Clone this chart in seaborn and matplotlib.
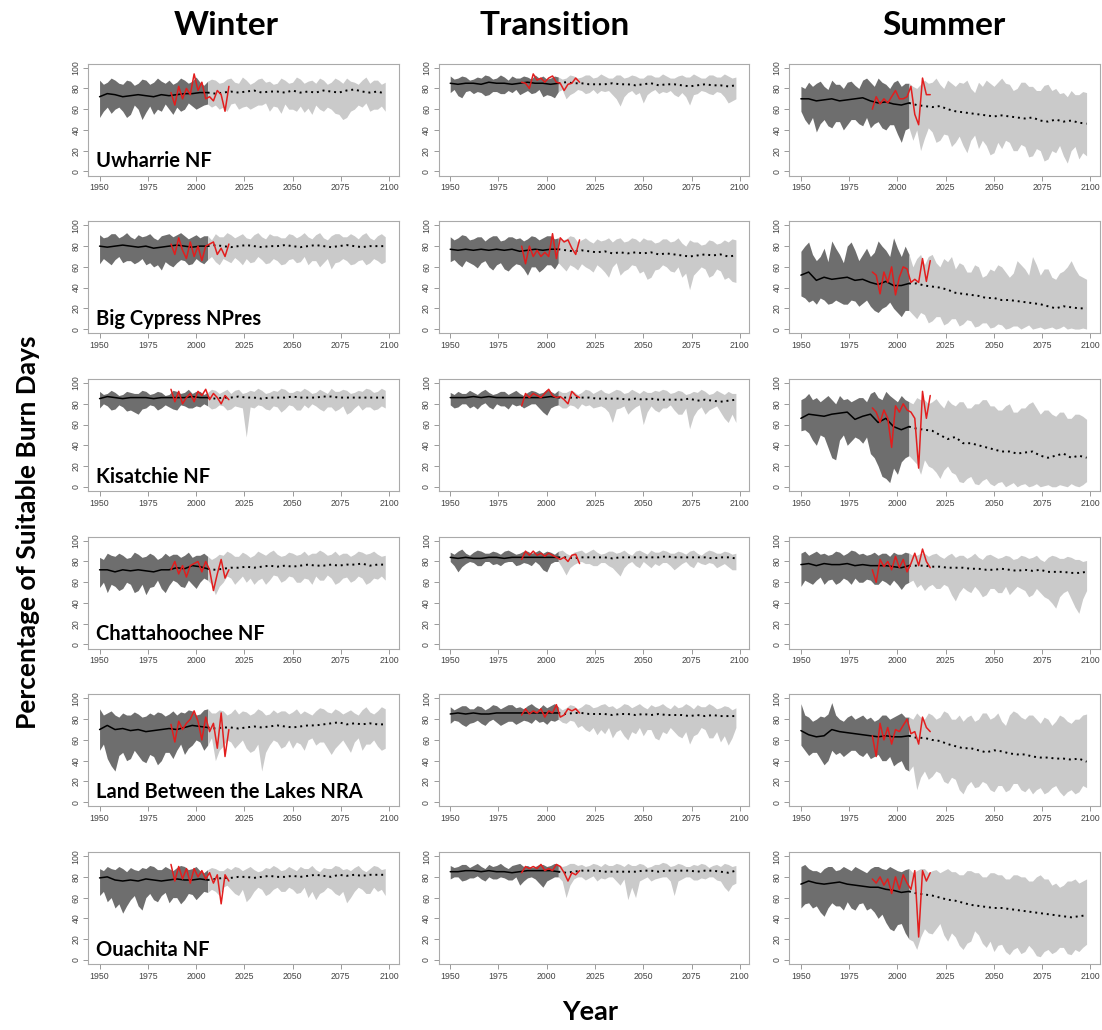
import numpy as np
import pandas as pd
import seaborn as sns
import matplotlib.pyplot as plt

sites = ["Uwharrie NF", "Big Cypress NPres", "Kisatchie NF", "Chattahoochee NF",
         "Land Between the Lakes NRA", "Ouachita NF"]
seasons = ["Winter", "Transition", "Summer"]

# band edges every 2 years from 1950, medians every 4 years, observed (red) every 2 years
band_start, band_step = 1950, 2
years = np.arange(1950, 2099, 4)
obs_years = np.arange(1987, 2018, 2)
split_year = 2006

# ---------------- Winter ----------------
winter_lo = {
    "Uwharrie NF": [52, 58, 62, 56, 60, 62, 58, 52, 55, 64, 60, 50, 57, 63, 55, 60, 58, 65, 60, 55,
                    62, 58, 60, 66, 63, 60, 62, 64, 65, 62, 64, 60, 62, 58, 65, 66, 60, 62, 63, 60,
                    62, 64, 64, 66, 58, 63, 62, 56, 65, 60, 60, 58, 63, 57, 61, 55, 64, 60, 58, 62,
                    60, 56, 55, 50, 52, 58, 60, 64, 62, 66, 58, 60, 60, 63, 58],
    "Big Cypress NPres": [63, 68, 65, 62, 67, 70, 64, 66, 66, 63, 65, 68, 62, 64, 60, 62, 57, 65, 62, 60,
                          64, 67, 66, 62, 63, 68, 65, 63, 67, 70, 65, 62, 68, 66, 64, 69, 66, 62, 68, 64,
                          65, 70, 67, 63, 64, 68, 66, 62, 63, 67, 68, 64, 65, 70, 62, 66, 66, 60, 64, 68,
                          58, 64, 65, 68, 66, 62, 63, 66, 67, 62, 64, 68, 66, 63, 65],
    "Kisatchie NF": [76, 80, 78, 74, 75, 79, 77, 73, 74, 72, 70, 75, 76, 79, 78, 74, 76, 79, 77, 75,
                     74, 79, 78, 76, 76, 78, 77, 80, 78, 75, 76, 79, 78, 74, 75, 78, 77, 76, 48, 77,
                     76, 79, 78, 75, 74, 78, 77, 72, 75, 79, 78, 74, 74, 79, 76, 80, 78, 75, 73, 77,
                     77, 73, 75, 78, 70, 72, 76, 79, 74, 77, 77, 74, 75, 78, 76],
    "Chattahoochee NF": [55, 60, 50, 58, 56, 52, 54, 60, 58, 50, 52, 58, 48, 55, 56, 62, 54, 50, 57, 62,
                         60, 56, 55, 62, 58, 54, 60, 64, 62, 58, 48, 56, 60, 66, 64, 58, 62, 66, 60, 64,
                         58, 62, 64, 58, 62, 67, 66, 60, 62, 66, 65, 60, 60, 64, 63, 58, 66, 62, 62, 67,
                         64, 58, 60, 64, 65, 60, 62, 66, 64, 58, 60, 64, 63, 66, 62],
    "Land Between the Lakes NRA": [50, 56, 42, 35, 30, 45, 48, 40, 42, 50, 45, 40, 38, 46, 44, 36, 40, 48, 48, 42,
                                   50, 56, 46, 52, 55, 60, 58, 50, 55, 62, 40, 50, 54, 60, 58, 52, 56, 60, 52, 48,
                                   50, 56, 30, 48, 55, 60, 58, 52, 54, 60, 52, 58, 56, 50, 60, 62, 55, 58, 58, 52,
                                   46, 52, 56, 60, 54, 48, 58, 62, 50, 56, 56, 60, 54, 50, 52],
    "Ouachita NF": [62, 66, 56, 60, 50, 54, 45, 52, 58, 62, 52, 48, 60, 64, 58, 56, 62, 65, 55, 60,
                    60, 54, 58, 64, 63, 58, 62, 66, 65, 68, 66, 62, 70, 72, 68, 64, 62, 68, 56, 60,
                    66, 70, 68, 62, 64, 68, 70, 66, 66, 70, 68, 64, 65, 70, 60, 66, 58, 64, 66, 70,
                    68, 64, 62, 66, 55, 60, 66, 70, 68, 64, 64, 70, 66, 68, 62],
}
winter_hi = {
    "Uwharrie NF": [88, 84, 86, 90, 88, 85, 84, 88, 87, 83, 85, 89, 88, 84, 86, 90, 87, 85, 88, 84,
                    86, 90, 88, 85, 87, 91, 86, 83, 87, 89, 88, 85, 86, 89, 90, 86, 85, 91, 88, 84,
                    86, 89, 90, 86, 87, 84, 85, 90, 88, 85, 86, 91, 89, 85, 87, 88, 85, 90, 88, 84,
                    86, 90, 88, 85, 90, 87, 86, 84, 88, 91, 85, 88, 88, 84, 86],
    "Big Cypress NPres": [91, 88, 89, 92, 92, 88, 90, 93, 89, 87, 91, 89, 90, 92, 88, 86, 90, 91, 92, 89,
                          91, 93, 90, 87, 89, 91, 88, 90, 90, 86, 92, 89, 89, 93, 91, 88, 90, 92, 88, 87,
                          91, 93, 89, 87, 92, 90, 90, 88, 88, 92, 91, 88, 90, 93, 89, 87, 91, 93, 88, 86,
                          90, 92, 92, 89, 89, 92, 90, 87, 91, 93, 88, 86, 90, 92, 89],
    "Kisatchie NF": [92, 89, 90, 93, 91, 88, 89, 92, 91, 90, 90, 93, 92, 89, 90, 92, 91, 88, 89, 93,
                     92, 90, 91, 94, 90, 92, 92, 89, 91, 94, 93, 90, 92, 94, 90, 93, 94, 90, 91, 93,
                     92, 95, 93, 90, 91, 93, 92, 95, 94, 91, 91, 93, 92, 95, 93, 90, 91, 94, 92, 90,
                     95, 92, 92, 94, 93, 90, 91, 93, 92, 95, 94, 91, 92, 95, 93],
    "Chattahoochee NF": [84, 82, 88, 86, 85, 88, 86, 83, 84, 89, 87, 84, 85, 88, 86, 82, 84, 88, 85, 87,
                         87, 84, 86, 89, 84, 86, 86, 88, 85, 82, 84, 87, 86, 90, 88, 85, 85, 89, 87, 84,
                         86, 90, 88, 86, 89, 91, 87, 85, 86, 89, 88, 86, 87, 90, 86, 88, 88, 91, 89, 86,
                         87, 90, 86, 88, 88, 85, 87, 90, 89, 87, 88, 90, 87, 85, 86],
    "Land Between the Lakes NRA": [90, 84, 86, 88, 84, 82, 86, 84, 84, 87, 85, 82, 83, 86, 84, 87, 86, 83, 85, 88,
                                   84, 87, 86, 89, 88, 84, 85, 89, 90, 86, 86, 89, 88, 84, 86, 90, 85, 88, 87, 84,
                                   86, 90, 88, 84, 85, 89, 86, 88, 88, 85, 87, 90, 85, 88, 86, 84, 88, 91, 90, 87,
                                   86, 90, 88, 85, 87, 89, 86, 84, 89, 92, 87, 85, 88, 92, 90],
    "Ouachita NF": [88, 86, 90, 88, 87, 90, 88, 85, 89, 87, 86, 89, 88, 91, 90, 87, 87, 90, 88, 86,
                    89, 91, 90, 87, 88, 90, 86, 84, 87, 89, 88, 86, 86, 89, 87, 90, 89, 86, 88, 90,
                    87, 85, 86, 89, 88, 91, 89, 86, 87, 90, 88, 86, 90, 88, 88, 91, 87, 85, 89, 88,
                    88, 91, 90, 87, 88, 86, 89, 91, 87, 85, 88, 91, 90, 87, 88],
}
winter_med = {
    "Uwharrie NF": [72, 75, 74, 72, 73, 74, 73, 72, 74, 73, 74, 75, 75, 76, 76, 75, 76, 77, 76, 77, 78, 76, 77, 77, 76, 78, 76, 77, 76, 78, 77, 76, 78, 79, 77, 76, 77, 75],
    "Big Cypress NPres": [80, 79, 80, 81, 80, 79, 80, 78, 79, 80, 81, 80, 79, 80, 80, 81, 80, 79, 80, 81, 80, 79, 80, 80, 81, 80, 79, 80, 81, 80, 79, 80, 81, 80, 79, 80, 80, 80],
    "Kisatchie NF": [85, 87, 86, 85, 86, 86, 86, 85, 86, 86, 86, 86, 87, 86, 86, 85, 86, 86, 87, 86, 86, 85, 86, 86, 86, 87, 86, 86, 86, 87, 87, 86, 86, 86, 86, 86, 86, 86],
    "Chattahoochee NF": [72, 72, 70, 72, 71, 72, 71, 70, 72, 72, 74, 73, 76, 75, 73, 72, 73, 74, 74, 75, 74, 75, 76, 75, 76, 75, 76, 77, 76, 76, 77, 76, 77, 77, 78, 76, 77, 77],
    "Land Between the Lakes NRA": [70, 74, 70, 71, 69, 70, 68, 69, 70, 71, 70, 72, 74, 73, 72, 71, 72, 72, 71, 72, 73, 72, 73, 74, 73, 72, 73, 74, 74, 75, 76, 77, 75, 76, 75, 76, 75, 75],
    "Ouachita NF": [79, 80, 77, 76, 77, 76, 78, 77, 76, 77, 78, 77, 77, 78, 77, 78, 79, 79, 80, 80, 79, 80, 81, 80, 80, 81, 80, 81, 82, 81, 80, 82, 81, 82, 81, 82, 82, 82],
}
winter_obs = {
    "Uwharrie NF": [76, 64, 82, 70, 80, 74, 94, 78, 86, 70, 72, 68, 78, 74, 58, 82],
    "Big Cypress NPres": [82, 72, 88, 76, 68, 84, 70, 80, 66, 80, 82, 84, 72, 78, 70, 82],
    "Kisatchie NF": [94, 82, 92, 80, 86, 90, 82, 92, 88, 94, 84, 90, 86, 80, 88, 84],
    "Chattahoochee NF": [72, 80, 68, 76, 65, 76, 78, 80, 70, 80, 72, 52, 68, 82, 64, 72],
    "Land Between the Lakes NRA": [75, 58, 78, 70, 76, 80, 88, 78, 60, 82, 68, 76, 52, 86, 44, 70],
    "Ouachita NF": [92, 76, 90, 78, 88, 74, 88, 80, 86, 78, 84, 74, 82, 54, 82, 76],
}

# ---------------- Transition ----------------
transition_lo = {
    "Uwharrie NF": [76, 79, 73, 71, 77, 78, 75, 77, 76, 73, 74, 77, 77, 75, 75, 78, 76, 79, 74, 76,
                    78, 75, 76, 79, 72, 74, 73, 71, 77, 79, 70, 74, 76, 79, 78, 75, 76, 79, 75, 78,
                    77, 78, 74, 70, 63, 72, 76, 78, 74, 76, 66, 74, 77, 79, 75, 77, 76, 78, 74, 72,
                    76, 72, 64, 74, 75, 78, 77, 75, 74, 77, 76, 72, 66, 68, 70],
    "Big Cypress NPres": [65, 67, 63, 60, 66, 64, 62, 59, 64, 66, 60, 57, 62, 64, 58, 56, 60, 63, 62, 58,
                          52, 60, 60, 55, 58, 62, 62, 58, 64, 60, 56, 62, 60, 57, 63, 60, 58, 55, 62, 59,
                          55, 50, 60, 64, 52, 56, 58, 62, 61, 54, 56, 48, 50, 57, 58, 62, 60, 56, 55, 60,
                          50, 54, 38, 52, 56, 60, 58, 50, 52, 58, 56, 48, 50, 46, 45],
    "Kisatchie NF": [79, 76, 77, 80, 80, 76, 78, 75, 79, 81, 77, 75, 80, 78, 78, 75, 80, 78, 79, 76,
                     78, 80, 80, 76, 72, 69, 76, 78, 79, 76, 76, 79, 78, 75, 80, 78, 79, 76, 77, 78,
                     76, 72, 62, 75, 76, 78, 70, 74, 77, 79, 60, 72, 78, 74, 72, 76, 76, 79, 74, 70,
                     70, 76, 56, 68, 74, 77, 70, 74, 76, 78, 72, 66, 62, 70, 62],
    "Chattahoochee NF": [80, 76, 70, 75, 78, 80, 79, 76, 76, 80, 80, 77, 78, 76, 79, 80, 80, 76, 77, 79,
                         78, 76, 80, 77, 72, 70, 78, 80, 80, 74, 67, 74, 77, 79, 80, 78, 78, 76, 76, 79,
                         79, 76, 74, 70, 66, 74, 78, 80, 76, 74, 80, 77, 74, 78, 76, 79, 79, 76, 72, 75,
                         78, 80, 76, 74, 80, 78, 77, 79, 78, 74, 76, 78, 75, 72, 72],
    "Land Between the Lakes NRA": [76, 79, 78, 75, 73, 76, 77, 79, 76, 74, 78, 80, 77, 74, 76, 78, 78, 75, 77, 79,
                                   78, 76, 80, 77, 78, 75, 79, 78, 80, 77, 76, 79, 78, 72, 74, 70, 68, 72, 65, 70,
                                   66, 72, 62, 68, 70, 64, 60, 68, 66, 72, 64, 70, 70, 62, 60, 68, 66, 72, 68, 64,
                                   62, 68, 56, 64, 66, 72, 70, 62, 62, 68, 58, 64, 55, 62, 72],
    "Ouachita NF": [78, 80, 80, 76, 77, 79, 79, 81, 78, 76, 80, 78, 78, 80, 79, 77, 77, 80, 72, 76,
                    79, 80, 78, 74, 70, 76, 78, 80, 80, 76, 60, 72, 78, 80, 80, 77, 79, 81, 76, 79,
                    78, 80, 80, 76, 72, 78, 58, 70, 60, 76, 78, 80, 76, 78, 79, 80, 80, 76, 62, 76,
                    78, 80, 80, 77, 77, 79, 78, 80, 80, 77, 76, 70, 66, 72, 74],
}
transition_hi = {
    "Uwharrie NF": [92, 89, 90, 92, 91, 88, 89, 91, 90, 93, 92, 89, 90, 93, 91, 88, 92, 90, 90, 92,
                    91, 89, 93, 90, 92, 89, 90, 92, 91, 89, 90, 93, 92, 90, 91, 93, 93, 90, 91, 94,
                    92, 90, 90, 93, 93, 90, 91, 93, 92, 90, 90, 93, 93, 91, 91, 94, 92, 90, 90, 92,
                    93, 91, 91, 94, 92, 90, 90, 93, 93, 91, 91, 94, 92, 90, 91],
    "Big Cypress NPres": [89, 86, 88, 91, 90, 86, 87, 89, 89, 85, 88, 90, 90, 85, 86, 89, 89, 87, 88, 85,
                          87, 90, 89, 86, 88, 90, 90, 87, 88, 86, 87, 90, 89, 84, 86, 88, 85, 83, 87, 85,
                          86, 88, 84, 87, 88, 84, 85, 88, 87, 84, 88, 86, 86, 83, 84, 87, 87, 84, 85, 88,
                          83, 80, 86, 84, 84, 81, 82, 86, 85, 82, 83, 86, 84, 87, 86],
    "Kisatchie NF": [91, 89, 92, 90, 90, 93, 91, 89, 92, 94, 91, 89, 90, 92, 92, 89, 91, 93, 90, 88,
                     91, 93, 92, 90, 91, 94, 92, 90, 93, 91, 91, 93, 92, 89, 91, 94, 93, 90, 92, 94,
                     91, 90, 92, 94, 93, 90, 91, 94, 92, 90, 93, 91, 91, 93, 92, 94, 93, 90, 91, 93,
                     92, 89, 90, 92, 91, 94, 92, 89, 90, 93, 91, 89, 92, 90, 90],
    "Chattahoochee NF": [89, 87, 90, 92, 88, 86, 89, 91, 90, 88, 88, 90, 89, 87, 90, 91, 89, 87, 88, 90,
                         90, 88, 89, 91, 88, 90, 89, 87, 90, 91, 88, 86, 89, 90, 91, 88, 90, 92, 89, 87,
                         88, 90, 90, 88, 89, 91, 88, 86, 90, 91, 89, 87, 91, 89, 89, 91, 90, 88, 88, 90,
                         89, 87, 90, 91, 88, 86, 89, 91, 90, 88, 88, 90, 89, 87, 88],
    "Land Between the Lakes NRA": [92, 89, 91, 93, 93, 90, 90, 93, 92, 89, 91, 94, 93, 90, 92, 94, 94, 91, 92, 90,
                                   93, 95, 92, 90, 94, 91, 93, 95, 92, 89, 91, 94, 93, 90, 92, 95, 94, 91, 92, 94,
                                   95, 92, 93, 90, 92, 95, 94, 91, 93, 95, 92, 90, 94, 92, 93, 95, 92, 90, 94, 91,
                                   92, 95, 93, 90, 94, 92, 92, 95, 93, 90, 91, 93, 92, 89, 91],
    "Ouachita NF": [91, 89, 90, 92, 92, 89, 91, 93, 90, 88, 92, 90, 91, 93, 90, 88, 91, 92, 93, 90,
                    91, 89, 90, 92, 92, 90, 91, 93, 92, 90, 91, 93, 93, 91, 92, 90, 91, 93, 92, 90,
                    93, 91, 91, 93, 92, 90, 93, 91, 91, 93, 92, 89, 90, 92, 92, 94, 93, 90, 91, 93,
                    92, 90, 90, 92, 91, 93, 92, 89, 91, 92, 90, 93, 92, 90, 91],
}
transition_med = {
    "Uwharrie NF": [85, 84, 85, 85, 84, 86, 85, 85, 84, 85, 86, 85, 85, 84, 85, 86, 85, 85, 84, 84, 84, 85, 84, 84, 83, 84, 85, 83, 84, 84, 83, 82, 83, 84, 83, 83, 82, 83],
    "Big Cypress NPres": [77, 76, 77, 76, 77, 76, 77, 76, 77, 75, 76, 77, 76, 77, 77, 76, 75, 76, 75, 74, 75, 73, 74, 73, 74, 73, 74, 72, 73, 72, 71, 70, 71, 72, 71, 72, 70, 71],
    "Kisatchie NF": [86, 86, 86, 87, 86, 87, 86, 86, 86, 86, 86, 86, 86, 87, 86, 86, 86, 86, 86, 85, 85, 85, 85, 84, 85, 84, 85, 84, 84, 84, 84, 85, 83, 84, 83, 82, 83, 84],
    "Chattahoochee NF": [84, 83, 84, 83, 83, 84, 84, 83, 84, 84, 84, 84, 84, 84, 84, 84, 83, 84, 84, 84, 84, 83, 84, 84, 84, 84, 84, 84, 85, 84, 84, 84, 84, 84, 83, 84, 84, 83],
    "Land Between the Lakes NRA": [85, 86, 85, 86, 85, 85, 86, 86, 86, 86, 86, 86, 86, 86, 86, 85, 86, 86, 85, 85, 85, 84, 85, 85, 84, 85, 84, 85, 84, 84, 84, 83, 84, 83, 84, 83, 83, 83],
    "Ouachita NF": [85, 85, 86, 86, 85, 86, 85, 85, 84, 85, 86, 86, 86, 86, 85, 84, 85, 86, 86, 86, 85, 85, 85, 85, 85, 86, 86, 85, 86, 86, 86, 86, 85, 86, 86, 85, 84, 86],
}
transition_obs = {
    "Uwharrie NF": [86, 85, 80, 94, 88, 90, 86, 90, 92, 86, 85, 78, 84, 85, 90, 86],
    "Big Cypress NPres": [80, 63, 80, 70, 76, 70, 74, 70, 92, 68, 88, 84, 86, 78, 72, 86],
    "Kisatchie NF": [78, 90, 86, 90, 88, 86, 90, 94, 88, 86, 87, 84, 80, 92, 88, 86],
    "Chattahoochee NF": [82, 90, 86, 90, 86, 88, 85, 88, 86, 84, 82, 84, 80, 86, 87, 78],
    "Land Between the Lakes NRA": [84, 90, 85, 88, 86, 90, 82, 88, 86, 94, 82, 84, 90, 88, 90, 86],
    "Ouachita NF": [84, 90, 88, 90, 88, 92, 86, 88, 86, 92, 90, 84, 76, 84, 82, 86],
}

# ---------------- Summer ----------------
summer_lo = {
    "Uwharrie NF": [58, 50, 45, 52, 38, 46, 50, 44, 42, 48, 48, 40, 45, 50, 50, 46, 44, 52, 42, 46,
                    48, 42, 40, 45, 45, 36, 28, 40, 42, 30, 40, 20, 32, 42, 38, 28, 30, 36, 35, 24,
                    28, 34, 25, 18, 30, 35, 22, 30, 25, 16, 18, 28, 22, 30, 28, 20, 20, 26, 24, 14,
                    15, 22, 20, 10, 12, 20, 18, 25, 15, 8, 20, 24, 12, 18, 15],
    "Big Cypress NPres": [32, 30, 26, 28, 24, 30, 28, 24, 25, 28, 26, 24, 24, 28, 27, 22, 25, 28, 22, 18,
                          16, 20, 22, 26, 20, 16, 12, 18, 18, 14, 10, 16, 14, 6, 8, 12, 12, 4, 6, 10,
                          10, 3, 5, 9, 8, 2, 3, 6, 6, 1, 2, 5, 4, 0, 1, 3, 3, 0, 2, 4,
                          0, 1, 2, 0, 1, 2, 0, 1, 3, 0, 1, 0, 0, 1, 0],
    "Kisatchie NF": [54, 55, 52, 45, 40, 50, 48, 38, 28, 26, 45, 50, 40, 44, 48, 46, 42, 48, 32, 28,
                     20, 10, 8, 4, 18, 12, 24, 28, 30, 26, 22, 12, 26, 20, 18, 14, 8, 16, 20, 14,
                     12, 5, 4, 8, 10, 3, 2, 6, 8, 3, 1, 4, 5, 0, 2, 4, 0, 2, 3, 0,
                     1, 3, 0, 1, 2, 0, 0, 2, 1, 0, 3, 1, 0, 2, 5],
    "Chattahoochee NF": [56, 62, 60, 58, 62, 65, 58, 62, 63, 58, 60, 64, 62, 58, 64, 60, 60, 63, 62, 58,
                         58, 62, 60, 57, 62, 58, 53, 58, 60, 62, 55, 58, 52, 56, 58, 54, 54, 58, 56, 48,
                         42, 50, 55, 52, 50, 56, 52, 46, 48, 54, 54, 50, 50, 56, 48, 52, 56, 54, 52, 46,
                         48, 54, 50, 46, 44, 40, 35, 46, 50, 52, 44, 36, 30, 44, 52],
    "Land Between the Lakes NRA": [55, 50, 45, 48, 48, 42, 36, 40, 50, 46, 48, 44, 47, 50, 50, 46, 44, 48, 42, 44,
                                   46, 40, 40, 44, 35, 38, 40, 32, 30, 35, 12, 24, 30, 22, 25, 30, 28, 20, 18, 24,
                                   22, 12, 8, 16, 20, 14, 15, 20, 18, 12, 10, 16, 16, 10, 12, 18, 18, 12, 10, 14,
                                   8, 12, 14, 8, 10, 14, 16, 10, 6, 10, 12, 8, 10, 16, 14],
    "Ouachita NF": [50, 54, 55, 50, 52, 46, 42, 50, 55, 52, 52, 48, 56, 50, 48, 54, 55, 48, 50, 46,
                    40, 44, 36, 30, 28, 34, 35, 26, 20, 18, 10, 22, 30, 26, 25, 30, 35, 24, 18, 26,
                    22, 14, 10, 16, 18, 28, 24, 16, 12, 18, 8, 14, 15, 8, 5, 10, 12, 6, 8, 14,
                    10, 4, 3, 8, 10, 6, 8, 12, 12, 6, 5, 10, 8, 12, 15],
}
summer_hi = {
    "Uwharrie NF": [82, 80, 86, 82, 85, 87, 82, 79, 88, 84, 84, 80, 86, 87, 83, 80, 88, 90, 86, 82,
                    90, 86, 84, 80, 86, 88, 82, 85, 85, 82, 80, 84, 88, 85, 86, 90, 84, 80, 88, 85,
                    82, 86, 85, 88, 80, 76, 86, 82, 88, 85, 82, 86, 90, 85, 84, 78, 80, 86, 86, 82,
                    82, 78, 78, 83, 84, 78, 80, 75, 76, 72, 78, 74, 74, 77, 76],
    "Big Cypress NPres": [75, 80, 84, 72, 66, 70, 78, 65, 85, 78, 72, 64, 80, 84, 76, 66, 72, 78, 70, 74,
                          85, 80, 76, 70, 88, 78, 70, 80, 72, 60, 68, 72, 62, 70, 72, 64, 60, 68, 65, 70,
                          58, 64, 62, 55, 55, 62, 60, 50, 52, 58, 56, 62, 60, 55, 50, 54, 66, 62, 58, 52,
                          70, 62, 52, 58, 58, 50, 48, 54, 56, 60, 66, 58, 52, 50, 48],
    "Kisatchie NF": [84, 86, 90, 84, 86, 82, 85, 88, 84, 80, 88, 84, 85, 82, 84, 86, 86, 82, 90, 92,
                     86, 84, 92, 88, 85, 82, 88, 84, 82, 80, 86, 84, 84, 80, 82, 85, 80, 76, 84, 80,
                     78, 82, 82, 76, 76, 80, 80, 84, 84, 78, 78, 74, 74, 78, 80, 72, 72, 76, 76, 80,
                     82, 76, 70, 74, 74, 70, 68, 72, 72, 66, 66, 70, 70, 68, 65],
    "Chattahoochee NF": [88, 90, 86, 88, 90, 87, 88, 86, 87, 90, 89, 86, 88, 91, 90, 87, 88, 86, 87, 89,
                         86, 88, 88, 85, 89, 87, 87, 89, 88, 86, 86, 88, 88, 85, 87, 88, 85, 83, 86, 88,
                         84, 86, 86, 83, 85, 88, 84, 82, 86, 87, 85, 83, 84, 86, 85, 82, 83, 86, 85, 83,
                         84, 86, 82, 80, 84, 86, 85, 83, 83, 85, 84, 82, 82, 80, 81],
    "Land Between the Lakes NRA": [95, 84, 82, 78, 80, 83, 82, 85, 96, 84, 80, 78, 82, 84, 80, 82, 84, 80, 82, 78,
                                   80, 84, 84, 80, 82, 84, 86, 82, 82, 80, 86, 82, 80, 86, 84, 80, 82, 88, 86, 80,
                                   80, 84, 78, 82, 84, 78, 80, 86, 86, 80, 82, 86, 78, 74, 84, 88, 86, 82, 80, 84,
                                   84, 80, 76, 82, 80, 74, 78, 84, 82, 78, 76, 80, 80, 84, 85],
    "Ouachita NF": [90, 92, 88, 86, 86, 84, 88, 90, 90, 86, 87, 90, 88, 86, 90, 88, 86, 84, 88, 90,
                    90, 88, 87, 90, 88, 86, 85, 87, 88, 84, 86, 88, 88, 84, 86, 87, 84, 86, 88, 85,
                    85, 82, 82, 86, 86, 84, 84, 80, 80, 84, 84, 82, 82, 78, 78, 82, 82, 80, 80, 76,
                    76, 80, 82, 78, 78, 72, 74, 70, 72, 76, 76, 78, 74, 76, 78],
}
summer_med = {
    "Uwharrie NF": [70, 70, 68, 69, 70, 68, 69, 70, 71, 68, 66, 67, 65, 64, 66, 64, 63, 62, 63, 60, 58, 57, 56, 55, 54, 53, 54, 53, 52, 51, 52, 49, 48, 50, 48, 49, 47, 46],
    "Big Cypress NPres": [52, 55, 47, 50, 48, 49, 50, 47, 48, 45, 43, 46, 42, 42, 44, 44, 42, 41, 40, 38, 35, 34, 33, 32, 30, 30, 28, 28, 27, 26, 25, 24, 22, 20, 22, 21, 20, 20],
    "Kisatchie NF": [66, 70, 69, 68, 70, 71, 72, 65, 68, 70, 62, 66, 58, 55, 58, 56, 55, 54, 50, 46, 48, 42, 42, 40, 38, 36, 34, 34, 32, 33, 34, 30, 28, 30, 32, 28, 30, 28],
    "Chattahoochee NF": [77, 78, 76, 78, 77, 77, 78, 76, 77, 76, 76, 76, 75, 74, 76, 76, 76, 75, 75, 74, 74, 74, 73, 73, 72, 72, 73, 72, 71, 72, 71, 72, 70, 70, 70, 69, 69, 70],
    "Land Between the Lakes NRA": [69, 65, 63, 64, 70, 68, 67, 66, 65, 64, 63, 64, 63, 63, 64, 62, 62, 60, 59, 56, 54, 52, 52, 50, 48, 50, 49, 47, 46, 46, 44, 43, 43, 42, 42, 41, 42, 39],
    "Ouachita NF": [73, 76, 74, 73, 74, 75, 73, 72, 71, 70, 70, 68, 67, 65, 66, 64, 63, 62, 60, 58, 57, 55, 53, 52, 51, 50, 50, 49, 48, 47, 46, 45, 44, 43, 42, 41, 42, 43],
}
summer_obs = {
    "Uwharrie NF": [60, 72, 65, 70, 66, 72, 78, 70, 70, 72, 82, 55, 45, 90, 74, 74],
    "Big Cypress NPres": [55, 52, 34, 55, 45, 60, 33, 50, 60, 58, 45, 48, 45, 68, 46, 66],
    "Kisatchie NF": [76, 72, 62, 74, 66, 38, 78, 72, 80, 74, 72, 66, 18, 92, 66, 88],
    "Chattahoochee NF": [72, 60, 82, 75, 80, 72, 85, 74, 82, 70, 78, 88, 76, 92, 80, 74],
    "Land Between the Lakes NRA": [64, 44, 76, 60, 72, 56, 70, 68, 74, 80, 66, 68, 56, 82, 72, 68],
    "Ouachita NF": [78, 74, 80, 72, 78, 64, 80, 68, 82, 74, 68, 86, 22, 86, 76, 84],
}

season_data = {
    "Winter": (winter_lo, winter_hi, winter_med, winter_obs),
    "Transition": (transition_lo, transition_hi, transition_med, transition_obs),
    "Summer": (summer_lo, summer_hi, summer_med, summer_obs),
}

sns.set_style("ticks")
plt.rcParams['font.family'] = ['Liberation Sans', 'DejaVu Sans']
bold_font = ['Lato', 'DejaVu Sans']

fig, axes = plt.subplots(6, 3, figsize=(11.02, 10.30), dpi=100)
fig.subplots_adjust(left=0.0799, right=0.9982, top=0.9383, bottom=0.0641,
                    wspace=0.129, hspace=0.408)

for j, season in enumerate(seasons):
    lo_d, hi_d, med_d, obs_d = season_data[season]
    for i, site in enumerate(sites):
        ax = axes[i, j]
        n = min(len(lo_d[site]), len(hi_d[site]))
        band = pd.DataFrame({'year': band_start + band_step * np.arange(n),
                             'lo': lo_d[site][:n], 'hi': hi_d[site][:n]})
        med = pd.DataFrame({'year': years, 'med': med_d[site]})
        obs = pd.DataFrame({'year': obs_years, 'pct': obs_d[site]})

        b_hist = band[band['year'] <= split_year]
        b_fut = band[band['year'] >= split_year]
        ax.fill_between(b_hist['year'], b_hist['lo'], b_hist['hi'], color='#6e6e6e', lw=0)
        ax.fill_between(b_fut['year'], b_fut['lo'], b_fut['hi'], color='#cacaca', lw=0)

        sns.lineplot(data=med[med['year'] <= split_year], x='year', y='med', ax=ax,
                     color='black', lw=1.1)
        sns.lineplot(data=med[med['year'] >= split_year], x='year', y='med', ax=ax,
                     color='black', lw=1.4, linestyle=(0, (1, 2)))
        sns.lineplot(data=obs, x='year', y='pct', ax=ax, color='#e21e1e', lw=1.1)

        ax.set_xlim(1944.04, 2104.96)
        ax.set_ylim(-4, 104)
        ax.set_xticks(np.arange(1950, 2101, 25))
        ax.set_yticks(np.arange(0, 101, 20))
        ax.set_xlabel('')
        ax.set_ylabel('')
        ax.tick_params(labelsize=6.3, length=3.5, width=0.7, colors='#999999',
                       labelcolor='#444444', pad=2)
        plt.setp(ax.get_yticklabels(), rotation=90, va='center')
        for sp in ax.spines.values():
            sp.set_visible(True)
            sp.set_color('#aaaaaa')
            sp.set_linewidth(0.8)

        if j == 0:
            ax.text(0.027, 0.075, site, transform=ax.transAxes, ha='left', va='baseline',
                    fontsize=14.5, fontweight='bold', color='black', family=bold_font)

title_x = [226.5, 555, 944]
for season, x in zip(seasons, title_x):
    fig.text(x / 1102, 1 - 35 / 1030, season, ha='center', va='baseline',
             fontsize=24, fontweight='bold', color='black', family=bold_font)

fig.text(28 / 1102, 1 - 532 / 1030, 'Percentage of Suitable Burn Days', rotation=90,
         ha='center', va='center', fontsize=19, fontweight='bold', color='black', family=bold_font)
fig.text(590 / 1102, 1 - 1012 / 1030, 'Year', ha='center', va='center',
         fontsize=19.5, fontweight='bold', color='black', family=bold_font)

fig.savefig('out.png', dpi=100, facecolor='white')
